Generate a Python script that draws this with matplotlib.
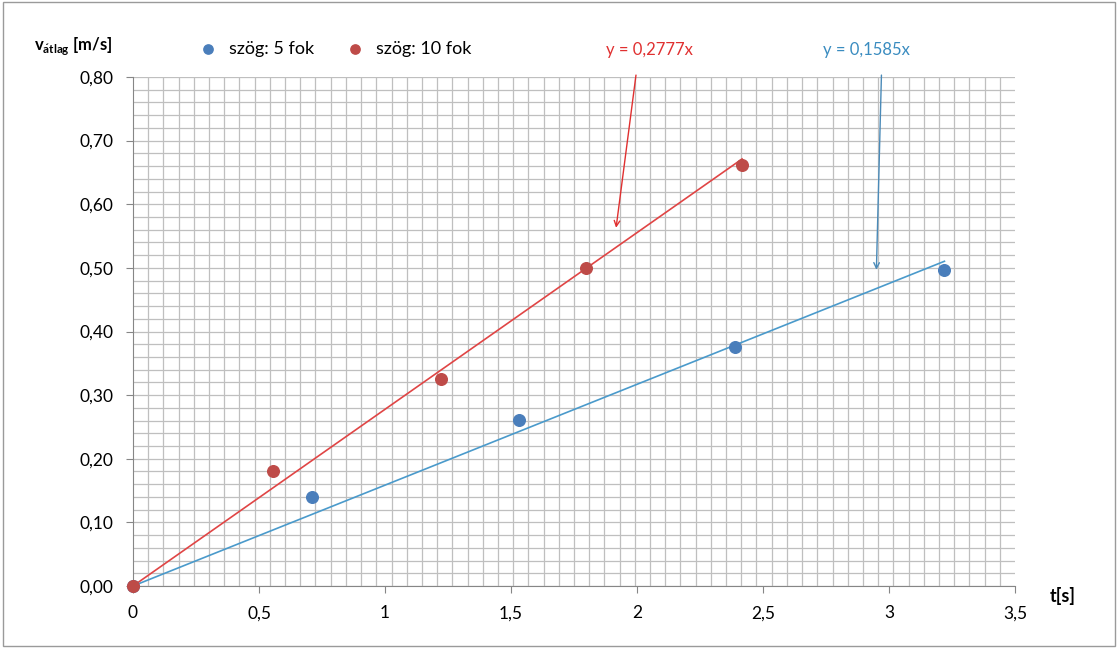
import matplotlib.pyplot as plt
from matplotlib.ticker import MultipleLocator, FixedLocator, FuncFormatter
import numpy as np

plt.rcParams['font.family'] = ['Lato', 'DejaVu Sans']

# mért adatok
t_5 = [0, 0.71, 1.53, 2.39, 3.22]
v_5 = [0, 0.14, 0.261, 0.376, 0.497]
t_10 = [0, 0.556, 1.222, 1.798, 2.417]
v_10 = [0, 0.181, 0.325, 0.50, 0.662]
slope_5 = 0.1585
slope_10 = 0.2777

blue = '#4a7ebb'
red = '#be4b48'

fig = plt.figure(figsize=(11.18, 6.48), dpi=100)
ax = fig.add_axes([133 / 1118, 1 - 586 / 648, 882 / 1118, 509 / 648])

# trendvonalak
tt = np.array([0, max(t_5)])
ax.plot(tt, slope_5 * tt, color='#4a9acb', lw=1.2, zorder=3)
tt = np.array([0, max(t_10)])
ax.plot(tt, slope_10 * tt, color='#e04545', lw=1.2, zorder=3)

ax.scatter(t_5, v_5, s=70, color=blue, zorder=4, label='szög: 5 fok', clip_on=False)
ax.scatter(t_10, v_10, s=70, color=red, zorder=5, label='szög: 10 fok', clip_on=False)

ax.set_xlim(0, 3.5)
ax.set_ylim(0, 0.8)
ax.xaxis.set_major_locator(MultipleLocator(0.5))
ax.yaxis.set_major_locator(MultipleLocator(0.1))
ax.xaxis.set_minor_locator(FixedLocator(np.arange(0, 3.51, 3.5 / 58)))
ax.yaxis.set_minor_locator(MultipleLocator(0.02))
ax.grid(which='minor', color='#bfbfbf', lw=0.9)
ax.grid(which='major', axis='x', visible=False)
ax.grid(which='major', axis='y', color='#bfbfbf', lw=0.9)
ax.tick_params(which='minor', length=0)
ax.tick_params(which='major', length=5, color='#868686', labelsize=12.5, pad=9)
ax.xaxis.set_major_formatter(FuncFormatter(lambda v, p: ('%g' % v).replace('.', ',')))
ax.yaxis.set_major_formatter(FuncFormatter(lambda v, p: ('%.2f' % v).replace('.', ',')))
for s in ['top', 'right']:
    ax.spines[s].set_visible(False)
for s in ['left', 'bottom']:
    ax.spines[s].set_color('#868686')
ax.set_axisbelow(True)

ax.legend(loc='lower left', bbox_to_anchor=(0.05, 1.015), ncol=2, frameon=False,
          fontsize=13, handletextpad=0.15, columnspacing=1.3, markerscale=0.8,
          borderaxespad=0.3)

# egyenletek és nyilak
ax.text(2.05, 0.843, 'y = 0,2777x', color='#e03030', fontsize=12, ha='center', va='center')
ax.annotate('', xy=(1.917, 0.563), xytext=(1.996, 0.803),
            arrowprops=dict(arrowstyle='->', color='#e03030', lw=1, shrinkA=0, shrinkB=0),
            annotation_clip=False)
ax.text(2.91, 0.843, 'y = 0,1585x', color='#3a8cc0', fontsize=12, ha='center', va='center')
ax.annotate('', xy=(2.95, 0.497), xytext=(2.97, 0.803),
            arrowprops=dict(arrowstyle='->', color='#4a8ab8', lw=1, shrinkA=0, shrinkB=0),
            annotation_clip=False)

fig.text(34 / 1118, 1 - 46 / 648, r'v$_{\mathregular{\acute{a}tlag}}$ [m/s]', fontsize=12,
         fontweight='bold', va='center')
fig.text(1050 / 1118, 1 - 596 / 648, 't[s]', fontsize=13, fontweight='bold', va='center')

fig.patches.append(plt.Rectangle((0.003, 0.003), 0.994, 0.994, transform=fig.transFigure,
                                 fill=False, edgecolor='#9a9a9a', lw=1))

fig.savefig('out.png', dpi=100)
